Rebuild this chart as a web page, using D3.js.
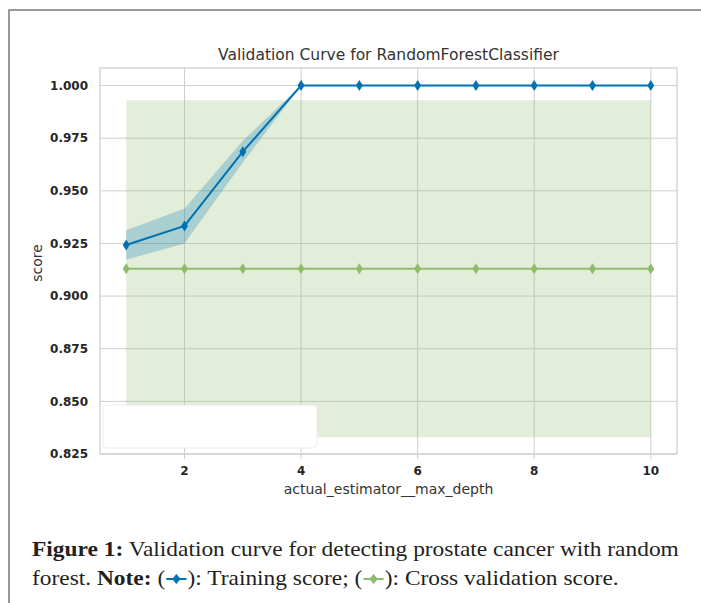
<!DOCTYPE html>
<html><head><meta charset="utf-8">
<script src="https://cdn.jsdelivr.net/npm/d3@7"></script>
<style>html,body{margin:0;padding:0;background:#fff;}svg{display:block;}</style>
</head><body>
<script>
const depths = [1, 2, 3, 4, 5, 6, 7, 8, 9, 10];
const trainMean = [0.9243, 0.9333, 0.9686, 1.0, 1.0, 1.0, 1.0, 1.0, 1.0, 1.0];
const trainStd = [0.0070, 0.0083, 0.0052, 0, 0, 0, 0, 0, 0, 0];
const cvMean = [0.9130, 0.9130, 0.9130, 0.9130, 0.9130, 0.9130, 0.9130, 0.9130, 0.9130, 0.9130];
const cvStd = [0.0800, 0.0800, 0.0800, 0.0800, 0.0800, 0.0800, 0.0800, 0.0800, 0.0800, 0.0800];
const xTicks = [2, 4, 6, 8, 10];
const yTicks = [0.825, 0.850, 0.875, 0.900, 0.925, 0.950, 0.975, 1.000];

const W = 701, H = 603;
const svg = d3.select("body").append("svg").attr("width", W).attr("height", H);

// outer frame
svg.append("path").attr("d", "M9,603 L9,10 L701,10").attr("fill", "none")
  .attr("stroke", "#7a7a7a").attr("stroke-width", 1.5);

const L = 100, R = 677, T = 68, B = 454;
const x = d3.scaleLinear().domain([0.55, 10.45]).range([L, R]);
const y = d3.scaleLinear().domain([0.825, 1.00833]).range([B, T]);

const blue = "#0072B2", green = "#8fbc6c";
const g = svg.append("g");

// grid
g.selectAll(".gx").data(xTicks).enter().append("line")
  .attr("x1", d => x(d)).attr("x2", d => x(d)).attr("y1", T).attr("y2", B + 5)
  .attr("stroke", "#cfcfcf").attr("stroke-width", 1);
g.selectAll(".gy").data(yTicks).enter().append("line")
  .attr("x1", L).attr("x2", R).attr("y1", d => y(d)).attr("y2", d => y(d))
  .attr("stroke", "#cfcfcf").attr("stroke-width", 1);

// bands
const area = (m, s) => d3.area().x((d, i) => x(depths[i])).y0((d, i) => y(m[i] - s[i])).y1((d, i) => y(m[i] + s[i]));
g.append("path").attr("d", area(cvMean, cvStd)(depths)).attr("fill", green).attr("fill-opacity", 0.25);
g.append("path").attr("d", area(trainMean, trainStd)(depths)).attr("fill", blue).attr("fill-opacity", 0.25);

// frame
g.append("rect").attr("x", L).attr("y", T).attr("width", R - L).attr("height", B - T)
  .attr("fill", "none").attr("stroke", "#d0d0d0").attr("stroke-width", 1.3);

// lines
const line = m => d3.line().x((d, i) => x(depths[i])).y((d, i) => y(m[i]));
const diamond = (cx, cy, w, h) => `M${cx},${cy - h} L${cx + w},${cy} L${cx},${cy + h} L${cx - w},${cy} Z`;
[[trainMean, blue], [cvMean, green]].forEach(([m, c]) => {
  g.append("path").attr("d", line(m)(depths)).attr("fill", "none").attr("stroke", c).attr("stroke-width", 2);
  g.selectAll(null).data(depths).enter().append("path")
    .attr("d", (d, i) => diamond(x(d), y(m[i]), 3.5, 5.5)).attr("fill", c);
});

// legend box (empty)
g.append("rect").attr("x", 103).attr("y", 405).attr("width", 214).attr("height", 43).attr("rx", 4)
  .attr("fill", "#fff").attr("stroke", "#ececec").attr("stroke-width", 1);

// ticks labels
svg.selectAll(".yl").data(yTicks).enter().append("text")
  .attr("x", 88).attr("y", d => y(d)).attr("dy", "0.35em").attr("text-anchor", "end")
  .attr("font-family", "DejaVu Sans").attr("font-weight", "bold").attr("font-size", 12)
  .attr("fill", "#262626").text(d => d3.format(".3f")(d));
svg.selectAll(".xl").data(xTicks).enter().append("text")
  .attr("x", d => x(d)).attr("y", 475).attr("text-anchor", "middle")
  .attr("font-family", "DejaVu Sans").attr("font-weight", "bold").attr("font-size", 12)
  .attr("fill", "#262626").text(d => d);

// titles
svg.append("text").attr("x", (L + R) / 2).attr("y", 60).attr("text-anchor", "middle")
  .attr("font-family", "DejaVu Sans").attr("font-size", 15.5).attr("fill", "#333")
  .text("Validation Curve for RandomForestClassifier");
svg.append("text").attr("x", (L + R) / 2).attr("y", 494).attr("text-anchor", "middle")
  .attr("font-family", "DejaVu Sans").attr("font-size", 14).attr("fill", "#333")
  .text("actual_estimator__max_depth");
svg.append("text").attr("transform", `translate(42,${(T + B) / 2 + 2}) rotate(-90)`).attr("text-anchor", "middle")
  .attr("font-family", "DejaVu Sans").attr("font-size", 14).attr("fill", "#333").text("score");

// caption
const capFont = "Liberation Serif", capSize = 22, capColor = "#231f20";
function buildLine(pieces) {
  const grp = svg.append("g");
  let cx = 0;
  pieces.forEach(p => {
    if (p.sym) {
      const w = 21;
      grp.append("line").attr("x1", cx + 1).attr("x2", cx + w - 1).attr("y1", -6).attr("y2", -6)
        .attr("stroke", p.sym).attr("stroke-width", 2);
      grp.append("path").attr("d", diamond(cx + w / 2, -6, 4, 5)).attr("fill", p.sym);
      cx += w;
    } else {
      const t = grp.append("text").attr("x", cx).attr("y", 0)
        .attr("font-family", capFont).attr("font-size", capSize).attr("fill", capColor)
        .attr("font-weight", p.bold ? "bold" : "normal").style("white-space", "pre").text(p.t);
      cx += t.node().getComputedTextLength();
    }
  });
  return { grp, width: cx };
}
const l1 = buildLine([{ t: "Figure 1:", bold: true }, { t: " Validation curve for detecting prostate cancer with random" }]);
const sx = (679 - 32) / l1.width;
l1.grp.attr("transform", `translate(32,556) scale(${sx},1)`);
const l2 = buildLine([{ t: "forest. " }, { t: "Note:", bold: true }, { t: " (" }, { sym: blue }, { t: "): Training score; (" }, { sym: green }, { t: "): Cross validation score." }]);
l2.grp.attr("transform", `translate(32,585) scale(${sx},1)`);
</script>
</body></html>
